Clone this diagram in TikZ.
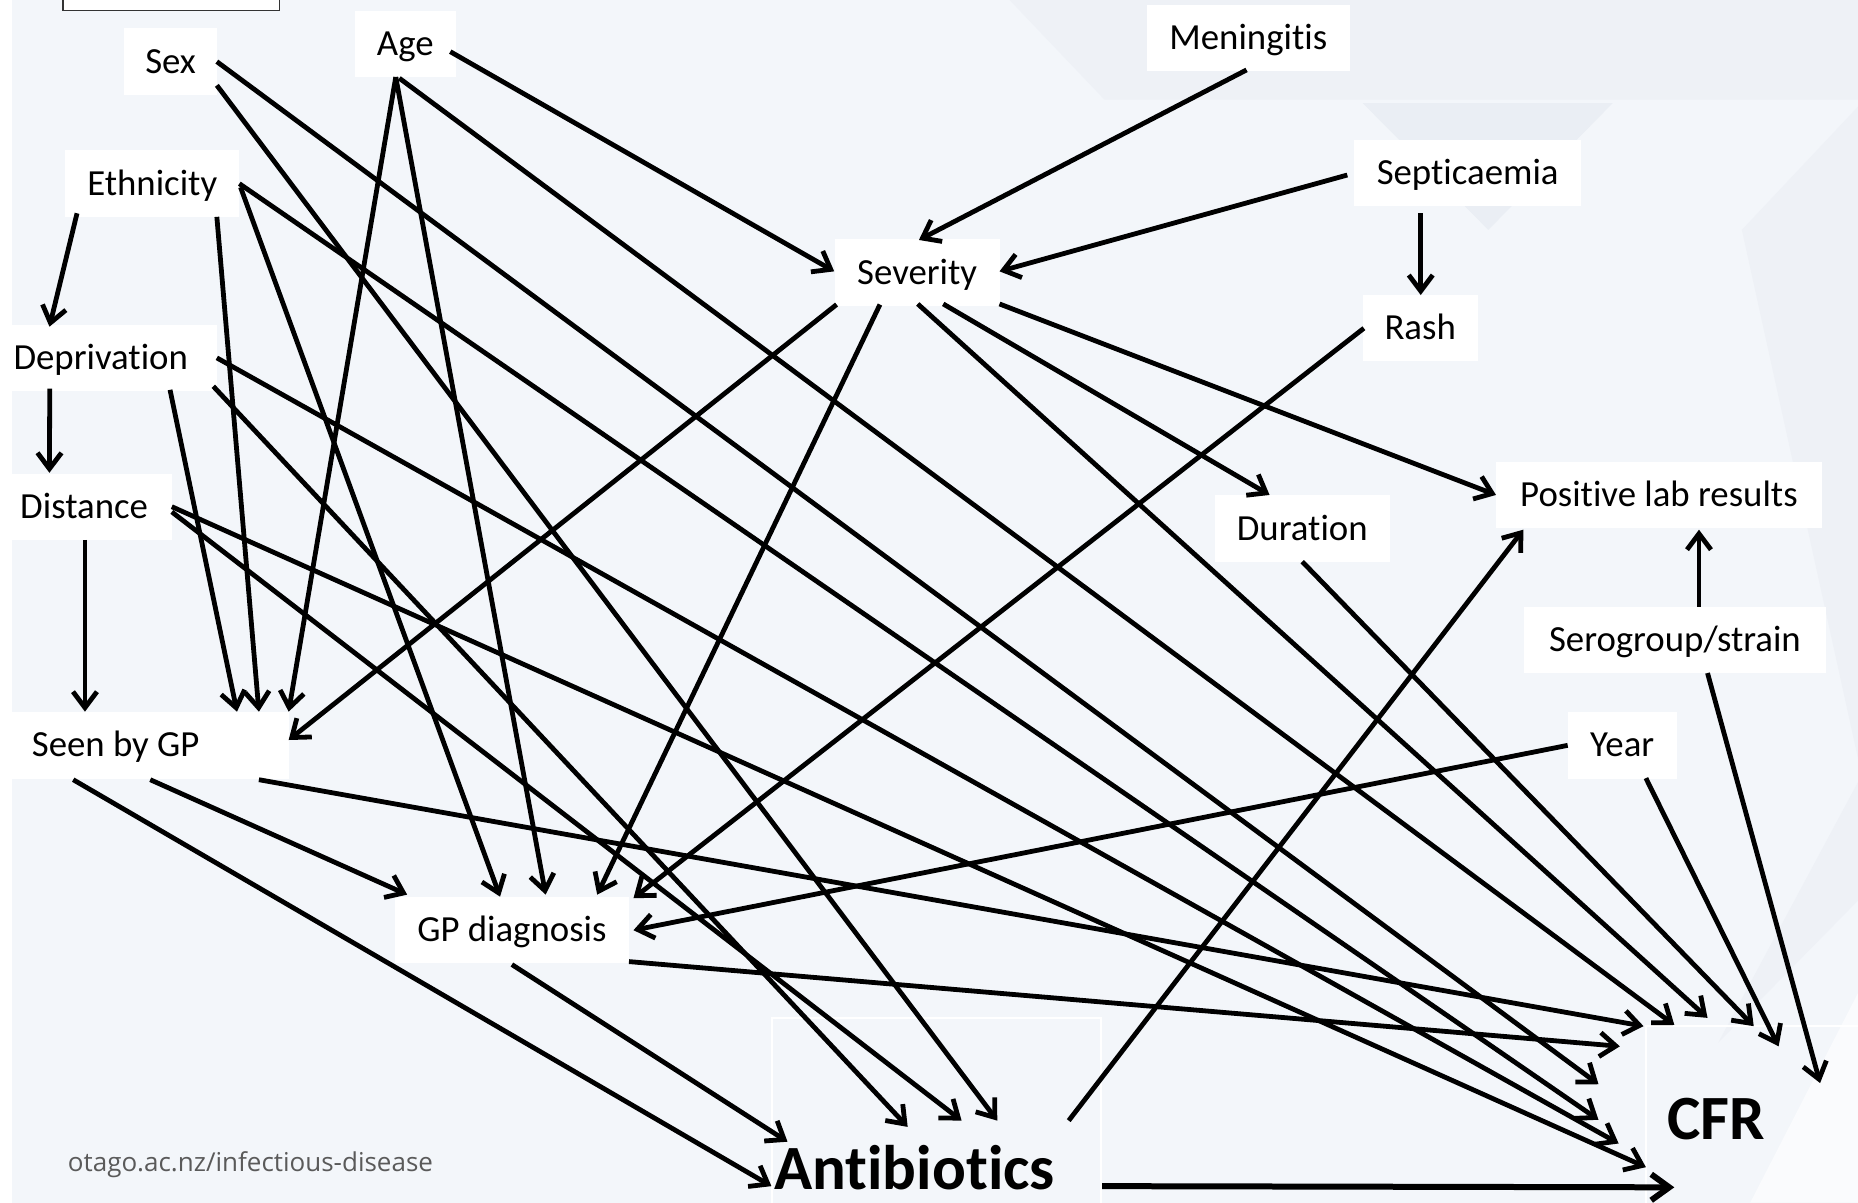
\documentclass[tikz,border=0pt]{standalone}
\usepackage{fontspec}
\setmainfont{Carlito}[Ligatures=NoCommon]
\newfontfamily\footfont{Open Sans}
\usetikzlibrary{arrows.meta,calc}
\newdimen\uu \uu=0.5925pt
\definecolor{bg}{HTML}{F3F6FA}
\definecolor{bgdark}{HTML}{EAEEF4}
\definecolor{bgmid}{HTML}{EEF1F6}
\definecolor{foot}{HTML}{5A5A5A}
\begin{document}
\begin{tikzpicture}[x=\uu,y=-\uu,
  lbl/.style={fill=white, inner sep=0pt, minimum height=56\uu, text height=14pt, text depth=2.4pt, font=\fontsize{18.4}{22}\selectfont},
  big/.style={inner sep=0pt, anchor=base west, font=\fontsize{31.5}{36}\selectfont\bfseries},
  edge/.style={line width=2.4pt, -{Straight Barb[length=8pt,width=12pt]}},
  thickedge/.style={line width=3pt, -{Straight Barb[length=9pt,width=13pt]}}]
% background
\useasboundingbox (0,0) rectangle (1568,1015);
\fill[white] (0,0) rectangle (1568,1015);
\fill[bg] (10,0) rectangle (1568,1015);
\fill[bgmid] (852,0) -- (932,84) -- (1568,84) -- (1568,0) -- cycle;
\fill[bgdark] (1150,87) -- (1361,87) -- (1256,194) -- cycle;
\fill[bgmid] (1470,194) -- (1568,90) -- (1568,640) -- cycle;
\fill[bgmid] (1450,880) -- (1568,760) -- (1568,660) -- cycle;
\fill[white!60!bg] (1568,838) -- (1477,1015) -- (1568,1015) -- cycle;
% top-left cut box
\draw[black!80, fill=white, line width=0.8pt] (53,-5) rectangle (236,9);
% faint outlines
\draw[white, line width=0.8pt] (651.5,1020) -- (651.5,859) -- (929,859) -- (929,1020);
\draw[white, line width=0.8pt] (1389,1020) -- (1389,866) -- (1570,866);
% nodes
\node[lbl, minimum width=78.5\uu] (sex) at (144,52) {Sex};
\node[lbl, minimum width=85\uu] (age) at (342,37) {Age};
\node[lbl, minimum width=171\uu] (men) at (1053.5,32) {Meningitis};
\node[lbl, minimum width=147\uu] (eth) at (128.5,155) {Ethnicity};
\node[lbl, minimum width=192\uu] (sep) at (1238.6,146) {Septicaemia};
\node[lbl, minimum width=139\uu] (sev) at (774,230) {Severity};
\node[lbl, minimum width=97\uu] (rash) at (1198.5,277) {Rash};
\node[lbl, minimum width=173.5\uu] (dep) at (96.75,302) {Deprivation\hspace*{23.5\uu}};
\node[lbl, minimum width=135\uu] (dist) at (77.5,428) {Distance\hspace*{13\uu}};
\node[lbl, minimum width=147.5\uu] (dur) at (1099,446) {Duration};
\node[lbl, minimum width=275.6\uu] (pos) at (1400,418) {Positive lab results};
\node[lbl, minimum width=255\uu] (sero) at (1413.5,540) {Serogroup/strain};
\node[lbl, minimum width=92\uu] (year) at (1369,629) {Year};
\node[lbl, minimum width=233.6\uu] (seen) at (126.8,629) {Seen by GP\hspace*{58.4\uu}};
\node[lbl, minimum width=197\uu] (gpd) at (432,785) {GP diagnosis};
\node[big] (anti) at (653,1004) {Antibiotics};
\node[big] (cfr) at (1407,962) {CFR};
\node[inner sep=0pt, anchor=base west, text=foot, font=\footfont\fontsize{13}{15}\selectfont] (url) at (57,989) {otago.ac.nz/infectious-disease};
% edges
\draw[edge] ($(sex)+(39,0)$) -- ($(cfr.base west)+(-58,-47)$);
\draw[edge] ($(sex)+(39,20)$) -- ($(anti.base west)+(188.6,-58.3)$);
\draw[edge] ($(age)+(38,6.6)$) -- ($(sev)+(-70,-1)$);
\draw[edge] ($(age)+(-8,28)$) -- ($(seen)+(116.8,-28.4)$);
\draw[edge] ($(age)+(-8,28)$) -- ($(gpd)+(28.5,-30)$);
\draw[edge] ($(age)+(-5,29)$) -- ($(cfr.base west)+(6,-97)$);
\draw[edge] ($(men)+(-1.5,27)$) -- ($(sev)+(1.5,-27.5)$);
\draw[edge] ($(eth)+(-63.5,25)$) -- ($(dep)+(-55,-26.3)$);
\draw[edge] ($(eth)+(54.5,28)$) -- ($(seen)+(91.7,-28.4)$);
\draw[edge] ($(eth)+(73.5,0)$) -- ($(cfr.base west)+(-58,-17)$);
\draw[edge] ($(eth)+(74.5,3)$) -- ($(gpd)+(-10,-28.3)$);
\draw[edge] ($(sep)+(-101.6,1.7)$) -- ($(sev)+(69.5,-1)$);
\draw[edge] ($(sep)+(-39.6,34)$) -- ($(rash)+(0.5,-28)$);
\draw[edge] ($(sev)+(-68,27)$) -- ($(seen)+(116.8,-4.5)$);
\draw[edge] ($(sev)+(-31.4,27)$) -- ($(gpd)+(72,-30)$);
\draw[edge] ($(sev)+(0.5,26.5)$) -- ($(cfr.base west)+(34,-103)$);
\draw[edge] ($(sev)+(22,26.5)$) -- ($(dur)+(-27.6,-28.3)$);
\draw[edge] ($(sev)+(69.5,26.5)$) -- ($(pos)+(-137.5,-0.3)$);
\draw[edge] ($(rash)+(-47.5,0)$) -- ($(gpd)+(102.6,-27)$);
\draw[edge] ($(dep)+(-54.75,26)$) -- ($(dist)+(-35.8,-29)$);
\draw[edge] ($(dep)+(46.75,27)$) -- ($(seen)+(73.2,-28.4)$);
\draw[edge] ($(dep)+(86.25,0)$) -- ($(cfr.base west)+(-41,3)$);
\draw[edge] ($(dep)+(83.25,24)$) -- ($(anti.base west)+(113,-53)$);
\draw[edge] ($(dist)+(-5.8,27.7)$) -- ($(seen)+(-55.1,-28.4)$);
\draw[edge] ($(dist)+(67.5,-0.4)$) -- ($(cfr.base west)+(-18,23)$);
\draw[edge] ($(dist)+(67.5,4)$) -- ($(anti.base west)+(158.5,-58.3)$);
\draw[edge] ($(seen)+(-65,29)$) -- ($(anti.base west)+(-2,-3)$);
\draw[edge] ($(seen)+(0,29)$) -- ($(gpd)+(-88.4,-30)$);
\draw[edge] ($(seen)+(91.7,29)$) -- ($(cfr.base west)+(-20,-96)$);
\draw[edge] ($(gpd)+(0,29)$) -- ($(anti.base west)+(11.6,-40.5)$);
\draw[edge] ($(gpd)+(98.8,26.5)$) -- ($(cfr.base west)+(-40,-79)$);
\draw[edge] ($(dur)+(0,28)$) -- ($(cfr.base west)+(73,-96)$);
\draw[edge] ($(anti.base west)+(248.9,-58.3)$) -- ($(pos)+(-114.4,29)$);
\draw[thickedge] ($(anti.base west)+(277,-3)$) -- ($(cfr.base west)+(6,40)$);
\draw[edge] ($(sero)+(20.3,-28)$) -- ($(pos)+(33.8,29)$);
\draw[edge] ($(sero)+(27.5,28)$) -- ($(cfr.base west)+(129,-48)$);
\draw[edge] ($(year)+(-46,0)$) -- ($(gpd)+(102.6,0)$);
\draw[edge] ($(year)+(20,27.7)$) -- ($(cfr.base west)+(94,-79)$);
\end{tikzpicture}
\end{document}
